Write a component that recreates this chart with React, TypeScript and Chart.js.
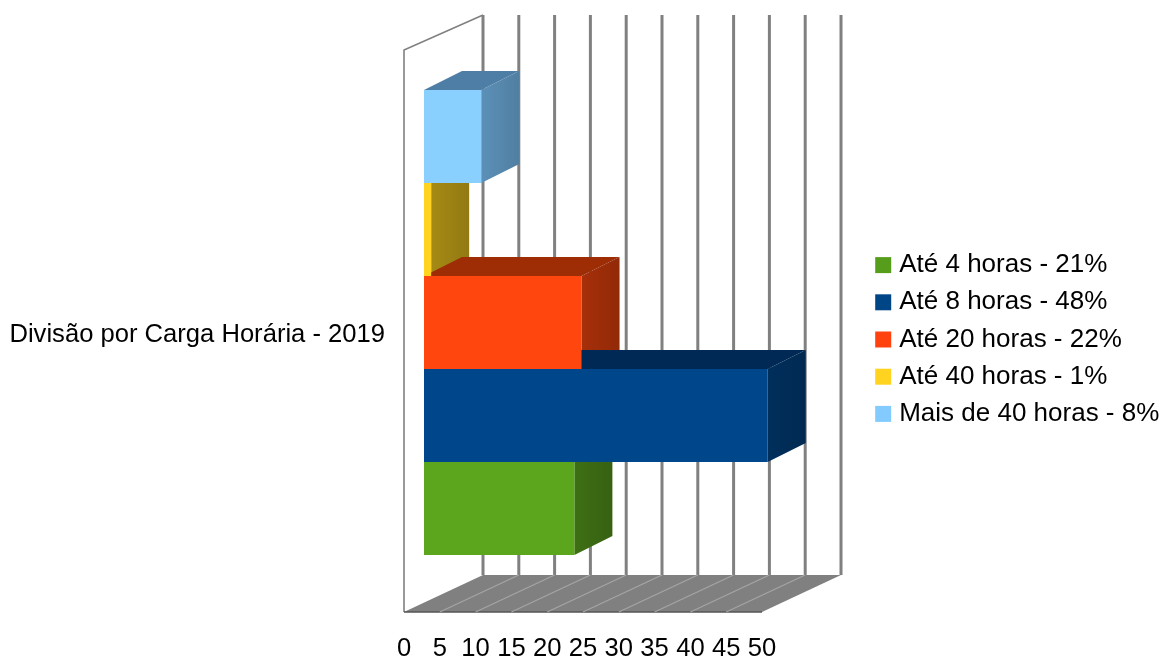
import React, { useEffect, useRef } from "react";
import { Chart, registerables, layouts } from "chart.js";

Chart.register(...registerables);

const categoryLabels = ["Divisão por Carga Horária - 2019"];
const seriesNames = [
  "Até 4 horas - 21%",
  "Até 8 horas - 48%",
  "Até 20 horas - 22%",
  "Até 40 horas - 1%",
  "Mais de 40 horas - 8%",
];
const seriesValues = [21, 48, 22, 1, 8];
const legendColors = ["#579D1C", "#004586", "#FF420E", "#FFD320", "#83CAFF"];
const faceColors = ["#5CA61E", "#00468A", "#FF460E", "#FFD320", "#8AD0FF"];
const sideColors = ["#3e6f14", "#002f5c", "#a62f09", "#a68a15", "#5c90b8"];
const topColors = ["#3e6f14", "#002a55", "#9e2c05", "#a68a15", "#4e7ea6"];

const FONT = "'Liberation Sans', Arial, sans-serif";
const FONT_SIZE = 25.6;
const LEGEND_FONT_SIZE = 26;
const BAR_DEPTH = { dx: 38, dy: -19 };
const GRID_COLOR = "#808080";

function polygon(
  ctx: CanvasRenderingContext2D,
  pts: number[][],
  fill: string | CanvasGradient
) {
  ctx.beginPath();
  pts.forEach(([x, y], i) => (i ? ctx.lineTo(x, y) : ctx.moveTo(x, y)));
  ctx.closePath();
  ctx.fillStyle = fill;
  ctx.fill();
}

// Back wall, side wall and floor of the box, laid out along the value axis.
function drawRoom(chart: any) {
  const ctx: CanvasRenderingContext2D = chart.ctx;
  const scale = chart.scales.x;
  const { top, bottom } = chart.chartArea;
  const floorFront = bottom - 18;
  const floorBack = bottom - 55;
  const frontShift = -20;
  const backShift = 59;
  const zero = scale.getPixelForValue(0);
  const end = scale.getPixelForValue(50);

  polygon(
    ctx,
    [
      [zero + frontShift, floorFront],
      [end + frontShift, floorFront],
      [end + backShift, floorBack],
      [zero + backShift, floorBack],
    ],
    GRID_COLOR
  );

  ctx.save();
  ctx.strokeStyle = GRID_COLOR;
  ctx.lineWidth = 1.6;
  ctx.beginPath();
  ctx.moveTo(zero + frontShift, floorFront);
  ctx.lineTo(zero + frontShift, top + 35);
  ctx.lineTo(zero + backShift, top);
  ctx.stroke();

  ctx.strokeStyle = "#555555";
  ctx.lineWidth = 1.5;
  ctx.beginPath();
  ctx.moveTo(zero + frontShift, floorFront);
  ctx.lineTo(end + frontShift, floorFront);
  ctx.stroke();

  scale.ticks.forEach((tick: any, i: number) => {
    const x = scale.getPixelForValue(tick.value);
    ctx.strokeStyle = GRID_COLOR;
    ctx.lineWidth = 3;
    ctx.beginPath();
    ctx.moveTo(x + backShift, top);
    ctx.lineTo(x + backShift, floorBack);
    ctx.stroke();
    if (i > 0 && i < scale.ticks.length - 1) {
      ctx.strokeStyle = "#a5a5a5";
      ctx.lineWidth = 1.2;
      ctx.beginPath();
      ctx.moveTo(x + frontShift, floorFront);
      ctx.lineTo(x + backShift, floorBack);
      ctx.stroke();
    }
  });
  ctx.restore();
}

const room3d = {
  id: "room3d",
  // Reserves the gap between the plot and the legend.
  start(chart: any) {
    layouts.addBox(chart, {
      position: "right",
      weight: 500,
      fullSize: false,
      options: {},
      width: 0,
      height: 0,
      left: 0,
      top: 0,
      right: 0,
      bottom: 0,
      isHorizontal: () => false,
      update(this: any, _w: number, h: number) {
        this.width = 87;
        this.height = h;
      },
      draw() {},
    } as any);
  },
  // The legend is clipped to its box, so the box is opened up to the canvas edge
  // and nudged down onto its rows.
  afterLayout(chart: any) {
    const legend = chart.legend;
    legend.right = chart.width;
    legend.top += 2;
    legend.bottom += 2;
  },
  beforeDatasetsDraw(chart: any) {
    drawRoom(chart);
    const ctx: CanvasRenderingContext2D = chart.ctx;
    // Upper bars are painted first so the lower ones overlap their depth faces.
    const { dx, dy } = BAR_DEPTH;
    const metas = seriesValues
      .map((_, i) => ({ i, bar: chart.getDatasetMeta(i).data[0] as any }))
      .sort((a, b) => a.bar.y - b.bar.y);
    metas.forEach(({ i, bar }) => {
      const yTop = bar.y - bar.height / 2;
      const yBot = bar.y + bar.height / 2;
      polygon(
        ctx,
        [
          [bar.base, yTop],
          [bar.x, yTop],
          [bar.x + dx, yTop + dy],
          [bar.base + dx, yTop + dy],
        ],
        topColors[i]
      );
      const side = [
        [bar.x, yTop],
        [bar.x + dx, yTop + dy],
        [bar.x + dx, yBot + dy],
        [bar.x, yBot],
      ];
      polygon(ctx, side, sideColors[i]);
      const shade = ctx.createLinearGradient(bar.x, 0, bar.x + dx, 0);
      shade.addColorStop(0, "rgba(0,0,0,0)");
      shade.addColorStop(1, "rgba(0,0,0,0.12)");
      polygon(ctx, side, shade);
    });
  },
};

export default function App() {
  const ref = useRef<HTMLCanvasElement>(null);

  useEffect(() => {
    const chart = new Chart(ref.current as HTMLCanvasElement, {
      type: "bar",
      plugins: [room3d],
      data: {
        labels: categoryLabels,
        datasets: seriesNames.map((name, i) => ({
          label: name,
          data: [seriesValues[i]],
          backgroundColor: faceColors[i],
          order: seriesNames.length - i,
          barPercentage: 1,
          categoryPercentage: 0.756,
        })),
      },
      options: {
        indexAxis: "y",
        animation: false,
        responsive: false,
        layout: { padding: { top: 15, left: 0, right: 136, bottom: 0 } },
        scales: {
          x: {
            min: 0,
            max: 50,
            grid: { display: false, drawTicks: false },
            border: { display: false },
            afterFit(scale: any) {
              scale.height = 30;
            },
            ticks: {
              stepSize: 5,
              maxRotation: 0,
              autoSkip: false,
              labelOffset: -20,
              padding: 4,
              color: "#000000",
              font: { family: FONT, size: FONT_SIZE },
            },
          },
          y: {
            grid: { display: false, drawTicks: false },
            border: { display: false },
            afterFit(scale: any) {
              scale.width = 424;
              scale.paddingTop = 0;
              scale.paddingBottom = 0;
            },
            ticks: {
              padding: 39,
              labelOffset: 12.5,
              color: "#000000",
              font: { family: FONT, size: FONT_SIZE },
            },
          },
        },
        plugins: {
          tooltip: { enabled: false },
          legend: {
            position: "right",
            maxWidth: 160,
            labels: {
              boxWidth: 6,
              boxHeight: 6,
              padding: 11.2,
              color: "#000000",
              font: { family: FONT, size: LEGEND_FONT_SIZE },
              generateLabels: () =>
                seriesNames.map((text, i) => ({
                  text,
                  fillStyle: legendColors[i],
                  strokeStyle: legendColors[i],
                  lineWidth: 10,
                  datasetIndex: i,
                  hidden: false,
                })),
            },
          },
        },
      },
    } as any);
    return () => chart.destroy();
  }, []);

  return (
    <div style={{ position: "absolute", left: 0, top: 0, width: 1165, height: 660 }}>
      <canvas ref={ref} width={1165} height={660} style={{ display: "block" }} />
    </div>
  );
}
